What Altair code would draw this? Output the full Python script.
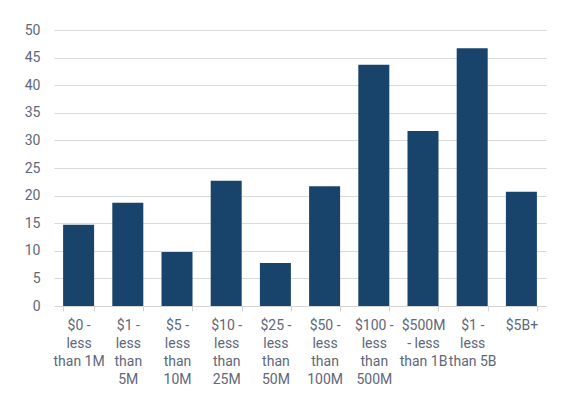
import altair as alt
import pandas as pd

categories = [
    "$0 -\nless\nthan 1M",
    "$1 -\nless\nthan\n5M",
    "$5 -\nless\nthan\n10M",
    "$10 -\nless\nthan\n25M",
    "$25 -\nless\nthan\n50M",
    "$50 -\nless\nthan\n100M",
    "$100 -\nless\nthan\n500M",
    "$500M\n- less\nthan 1B",
    "$1 -\nless\nthan 5B",
    "$5B+",
]
values = [14.7, 18.7, 9.8, 22.7, 7.8, 21.7, 43.7, 31.7, 46.7, 20.7]

df = pd.DataFrame({"cat": categories, "val": values})

text_color = "#606778"
font = "Roboto"

chart = (
    alt.Chart(df)
    .mark_bar(color="#18436b")
    .encode(
        x=alt.X(
            "cat:N",
            sort=categories,
            title=None,
            scale=alt.Scale(paddingInner=0.37, paddingOuter=0.185),
            axis=alt.Axis(
                labelAngle=0,
                labelExpr="split(datum.label, '\\n')",
                labelLineHeight=18,
                labelFontSize=14,
                labelFont=font,
                labelColor=text_color,
                labelPadding=7,
                labelBaseline="top",
                tickBand="extent",
                tickColor="#d4d4d4",
                tickSize=5,
                domainColor="#d4d4d4",
                grid=False,
            ),
        ),
        y=alt.Y(
            "val:Q",
            title=None,
            scale=alt.Scale(domain=[0, 50], nice=False),
            axis=alt.Axis(
                values=[0, 5, 10, 15, 20, 25, 30, 35, 40, 45, 50],
                labelFontSize=14,
                labelFont=font,
                labelColor=text_color,
                labelPadding=14,
                ticks=False,
                domain=False,
                gridColor="#d9d9d9",
                gridWidth=1,
            ),
        ),
    )
    .properties(
        width=492,
        height=276,
        autosize=alt.AutoSizeParams(type="none"),
        padding={"left": 46, "top": 22, "right": 20, "bottom": 90},
    )
    .configure_view(stroke=None)
)

chart.save("out.html", embed_options={"renderer": "svg", "actions": False})
